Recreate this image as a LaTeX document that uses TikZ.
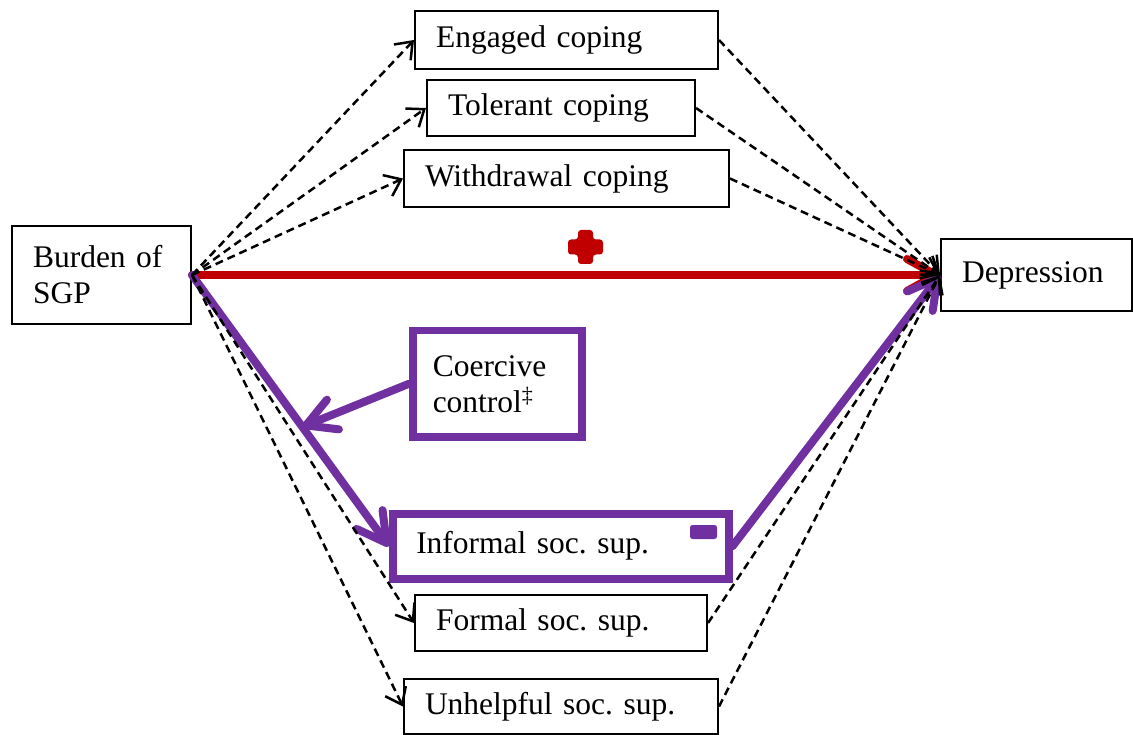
\documentclass[tikz,border=0pt]{standalone}
\usepackage{fontspec}
\setmainfont{Liberation Serif}
\usetikzlibrary{arrows.meta,calc}
\definecolor{plusred}{HTML}{C00000}
\definecolor{modpurple}{HTML}{7030A0}

\begin{document}
\frenchspacing
\begin{tikzpicture}[x=1pt,y=-1pt,
  varbox/.style={draw=black, line width=2pt, fill=white, inner xsep=21pt,
    inner ysep=0pt, align=left, anchor=north west,
    font=\fontsize{31.5}{36}\selectfont\frenchspacing},
  keybox/.style={varbox, draw=modpurple, line width=7.5pt},
  dashlink/.style={black, line width=2.5pt, dash pattern=on 8pt off 5pt,
    -{Straight Barb[length=15pt,width=23pt,line width=2.5pt]}},
  keylink/.style={line width=8pt, line cap=round,
    -{Straight Barb[length=29pt,width=32pt,round]}},
]
\useasboundingbox (0,0) rectangle (1133,735);

% variables
\node[varbox, text width=137pt, minimum height=98pt] (Burden) at (11,225) {Burden of\\SGP};
\node[varbox, text width=261pt, minimum height=58pt] (Engaged) at (414,10) {Engaged coping};
\node[varbox, text width=226pt, minimum height=56pt] (Tolerant) at (426,79) {Tolerant coping};
\node[varbox, text width=283pt, minimum height=57pt] (Withdrawal) at (403,149) {Withdrawal coping};
\node[varbox, text width=149pt, minimum height=72pt] (Depression) at (940,238) {Depression};
\node[keybox, inner xsep=20pt, text width=129pt, minimum height=106pt] (Coercive) at (409,327) {Coercive\\control\textsuperscript{‡}};
\node[keybox, inner xsep=23.5pt, text width=289pt, minimum height=65pt] (Informal) at (389,510) {Informal soc. sup.};
\node[varbox, text width=250pt, minimum height=56pt] (Formal) at (414,594) {Formal soc. sup.};
\node[varbox, text width=272pt, minimum height=55pt] (Unhelpful) at (403,678) {Unhelpful soc. sup.};

% sign markers
\fill[plusred, rounded corners=3pt]
  (578,230) -- (593,230) -- (593,239.5) -- (603,239.5) -- (603,254.5) -- (593,254.5)
  -- (593,264) -- (578,264) -- (578,254.5) -- (568,254.5) -- (568,239.5) -- (578,239.5) -- cycle;
\node[fill=modpurple, rounded corners=2.5pt, minimum width=27pt, minimum height=14pt,
  inner sep=0pt] (minus) at (703.5,532) {};

% significant paths
\draw[plusred, keylink] (Burden.east) -- (Depression.west);
\draw[modpurple, keylink] (Burden.east) -- (Informal.west);
\draw[modpurple, keylink] (Informal.east) -- (Depression.west);
\coordinate (hit) at ($(Burden.east)!0.56!(Informal.west)$);
\draw[modpurple, keylink] (Coercive.west) -- (hit);

% non-significant paths
\foreach \m in {Engaged,Tolerant,Withdrawal,Formal,Unhelpful}{
  \draw[dashlink] (Burden.east) -- (\m.west);
  \draw[dashlink] (\m.east) -- (Depression.west);
}
\end{tikzpicture}
\end{document}
